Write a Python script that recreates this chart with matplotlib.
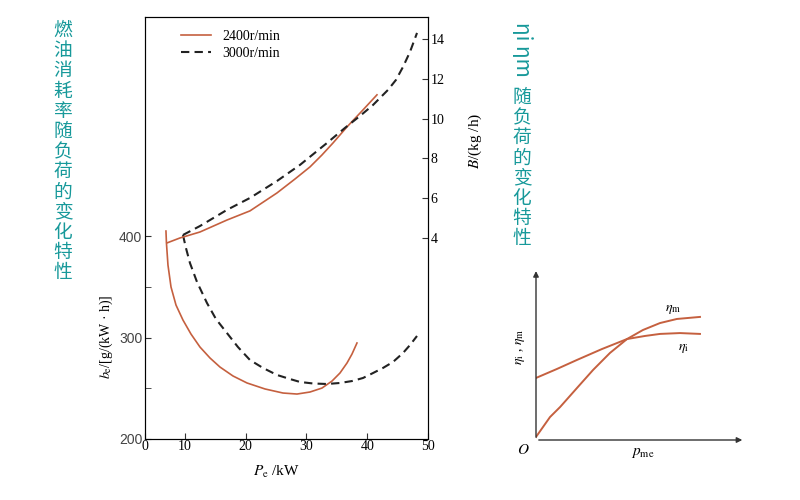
import numpy as np
import matplotlib
matplotlib.use("Agg")
import matplotlib.pyplot as plt

plt.rcParams['font.family'] = ['Liberation Serif', 'DejaVu Serif']
plt.rcParams['mathtext.fontset'] = 'stix'

# fuel consumption rate b_e [g/(kW h)] vs P_e [kW]
pe_be_2400 = [6.87, 6.95, 7.2, 7.7, 8.52, 9.67, 10.99, 12.47, 14.12, 15.76, 17.9, 20.21,
              23.17, 26.13, 28.44, 30.58, 32.55, 34.2, 35.51, 36.67, 37.49, 38.31]
be_2400 = [404.9, 393.1, 371.4, 349.8, 332.0, 317.2, 303.4, 290.6, 279.8, 270.9, 262.1, 255.2,
           249.3, 245.3, 244.3, 246.3, 250.2, 257.1, 265.0, 274.9, 283.7, 294.6]
pe_be_3000 = [9.67, 10.16, 10.82, 11.98, 13.62, 15.1, 16.91, 18.72, 20.7, 22.84, 25.14, 27.28,
              28.93, 31.07, 33.37, 35.51, 37.49, 39.3, 40.95, 42.59, 44.24, 45.88, 47.04, 48.19]
be_3000 = [401.0, 388.2, 373.4, 354.7, 334.0, 318.2, 304.4, 290.6, 277.8, 270.0, 263.1, 259.1,
           256.2, 254.7, 254.2, 255.2, 257.1, 260.1, 265.0, 270.0, 275.9, 284.7, 292.6, 301.5]

# fuel consumption B [kg/h] vs P_e
pe_B_2400 = [7.04, 9.18, 12.47, 16.91, 20.7, 25.14, 28.1, 30.58, 32.55, 34.36, 36.67, 39.14, 41.6]
B_2400 = [3.75, 4.0, 4.30, 4.90, 5.36, 6.26, 6.96, 7.57, 8.17, 8.77, 9.58, 10.38, 11.19]
pe_B_3000 = [9.67, 12.47, 16.91, 20.7, 25.14, 28.93, 33.37, 36.34, 38.81, 40.95, 43.42, 44.73,
             45.88, 47.04, 48.19]
B_3000 = [4.15, 4.60, 5.41, 6.01, 6.86, 7.67, 8.77, 9.53, 10.13, 10.68, 11.44, 11.94,
          12.59, 13.35, 14.30]

# efficiency sketch (normalised)
pme_i = [0, 0.102, 0.199, 0.320, 0.442, 0.529, 0.602, 0.699, 0.796]
eta_i = [0.365, 0.418, 0.471, 0.535, 0.594, 0.612, 0.624, 0.629, 0.624]
pme_m = [0, 0.068, 0.117, 0.199, 0.277, 0.359, 0.442, 0.519, 0.602, 0.684, 0.796]
eta_m = [0.018, 0.135, 0.194, 0.306, 0.412, 0.512, 0.594, 0.647, 0.688, 0.712, 0.724]

x_ticks = [10, 20, 30, 40, 50]
be_ticks = [200, 300, 400]
B_ticks = [4, 6, 8, 10, 12, 14]

red = '#c5603f'
dark = '#222222'
teal = '#17999a'
cjk = ['Noto Sans CJK SC', 'DejaVu Sans']

fig = plt.figure(figsize=(8, 5), dpi=100)

ax = fig.add_axes([0.18125, 0.122, 0.35375, 0.844])
x_left = 3.42
ax.set_xlim(x_left, 50)
ax.set_ylim(200, 615.8)
ax.plot(pe_be_2400, be_2400, color=red, lw=1.2, label='2400r/min')
ax.plot(pe_be_3000, be_3000, color=dark, lw=1.5, dashes=(4, 2.5), label='3000r/min')
ax.set_xticks([x_left] + x_ticks)
ax.set_xticklabels(['0'] + [str(t) for t in x_ticks])
ax.set_yticks(be_ticks)
ax.set_yticks([250, 350], minor=True)
ax.tick_params(axis='both', which='both', direction='in', length=4, labelsize=10, color='#333333')
ax.tick_params(axis='x', pad=1)
ax.tick_params(axis='y', pad=2, labelcolor='#444444')
for lbl in ax.get_yticklabels():
    lbl.set_family(['Liberation Sans', 'DejaVu Sans'])
for s in ax.spines.values():
    s.set_color('#333333')
ax.set_xlabel(r'$P_\mathrm{e}$ /kW', fontsize=11)
ax.xaxis.set_label_coords(0.463, -0.058)
ax.set_ylabel(r'$b_\mathrm{e}$/[g/(kW · h)]', fontsize=10)
ax.yaxis.set_label_coords(-0.106, 0.242)
ax.legend(loc='upper left', bbox_to_anchor=(0.106, 0.983), frameon=False, fontsize=10,
          borderaxespad=0, handlelength=2.2, labelspacing=0.3)

ax2 = ax.twinx()
ax2.set_ylim(-6.1, 15.1)
ax2.plot(pe_B_2400, B_2400, color=red, lw=1.2)
ax2.plot(pe_B_3000, B_3000, color=dark, lw=1.5, dashes=(4, 2.5))
ax2.set_yticks(B_ticks)
ax2.tick_params(axis='y', direction='in', length=4, labelsize=10, pad=2, color='#333333')
ax2.set_ylabel(r'$B$/(kg /h)', fontsize=11)
ax2.yaxis.set_label_coords(1.138, 0.706)

# efficiency sketch
ax3 = fig.add_axes([0.67, 0.12, 0.2575, 0.34])
ax3.set_xlim(0, 1)
ax3.set_ylim(0, 1)
ax3.axis('off')
ax3.plot(pme_i, eta_i, color=red, lw=1.4)
ax3.plot(pme_m, eta_m, color=red, lw=1.4)
arrow = dict(arrowstyle='-|>', color='#333333', lw=1, mutation_scale=8)
ax3.annotate('', xy=(1.015, 0), xytext=(0, 0), arrowprops=arrow, annotation_clip=False)
ax3.annotate('', xy=(0, 1.01), xytext=(0, 0), arrowprops=arrow, annotation_clip=False)
ax3.text(-0.063, -0.059, r'$O$', fontsize=11, ha='center', va='center')
ax3.text(0.519, -0.076, r'$p_\mathrm{me}$', fontsize=11, ha='center', va='center')
ax3.text(-0.075, 0.547, r'$\eta_\mathrm{i}$ , $\eta_\mathrm{m}$', fontsize=10, rotation=90,
         ha='center', va='center')
ax3.text(0.665, 0.765, r'$\eta_\mathrm{m}$', fontsize=10, ha='center', va='center')
ax3.text(0.714, 0.541, r'$\eta_\mathrm{i}$', fontsize=10, ha='center', va='center')

# captions
fig.text(63 / 800, 1 - 20 / 500, '\n'.join('燃油消耗率随负荷的变化特性'), ha='center', va='top',
         fontsize=13.5, color=teal, family=cjk, linespacing=0.95)
fig.text(522 / 800, 1 - 22 / 500, 'ηi ηm', rotation=-90, ha='center', va='top',
         fontsize=15, color=teal, family=cjk)
fig.text(522 / 800, 1 - 87 / 500, '\n'.join('随负荷的变化特性'), ha='center', va='top',
         fontsize=13.5, color=teal, family=cjk, linespacing=0.95)

fig.savefig('out.png', dpi=100)
